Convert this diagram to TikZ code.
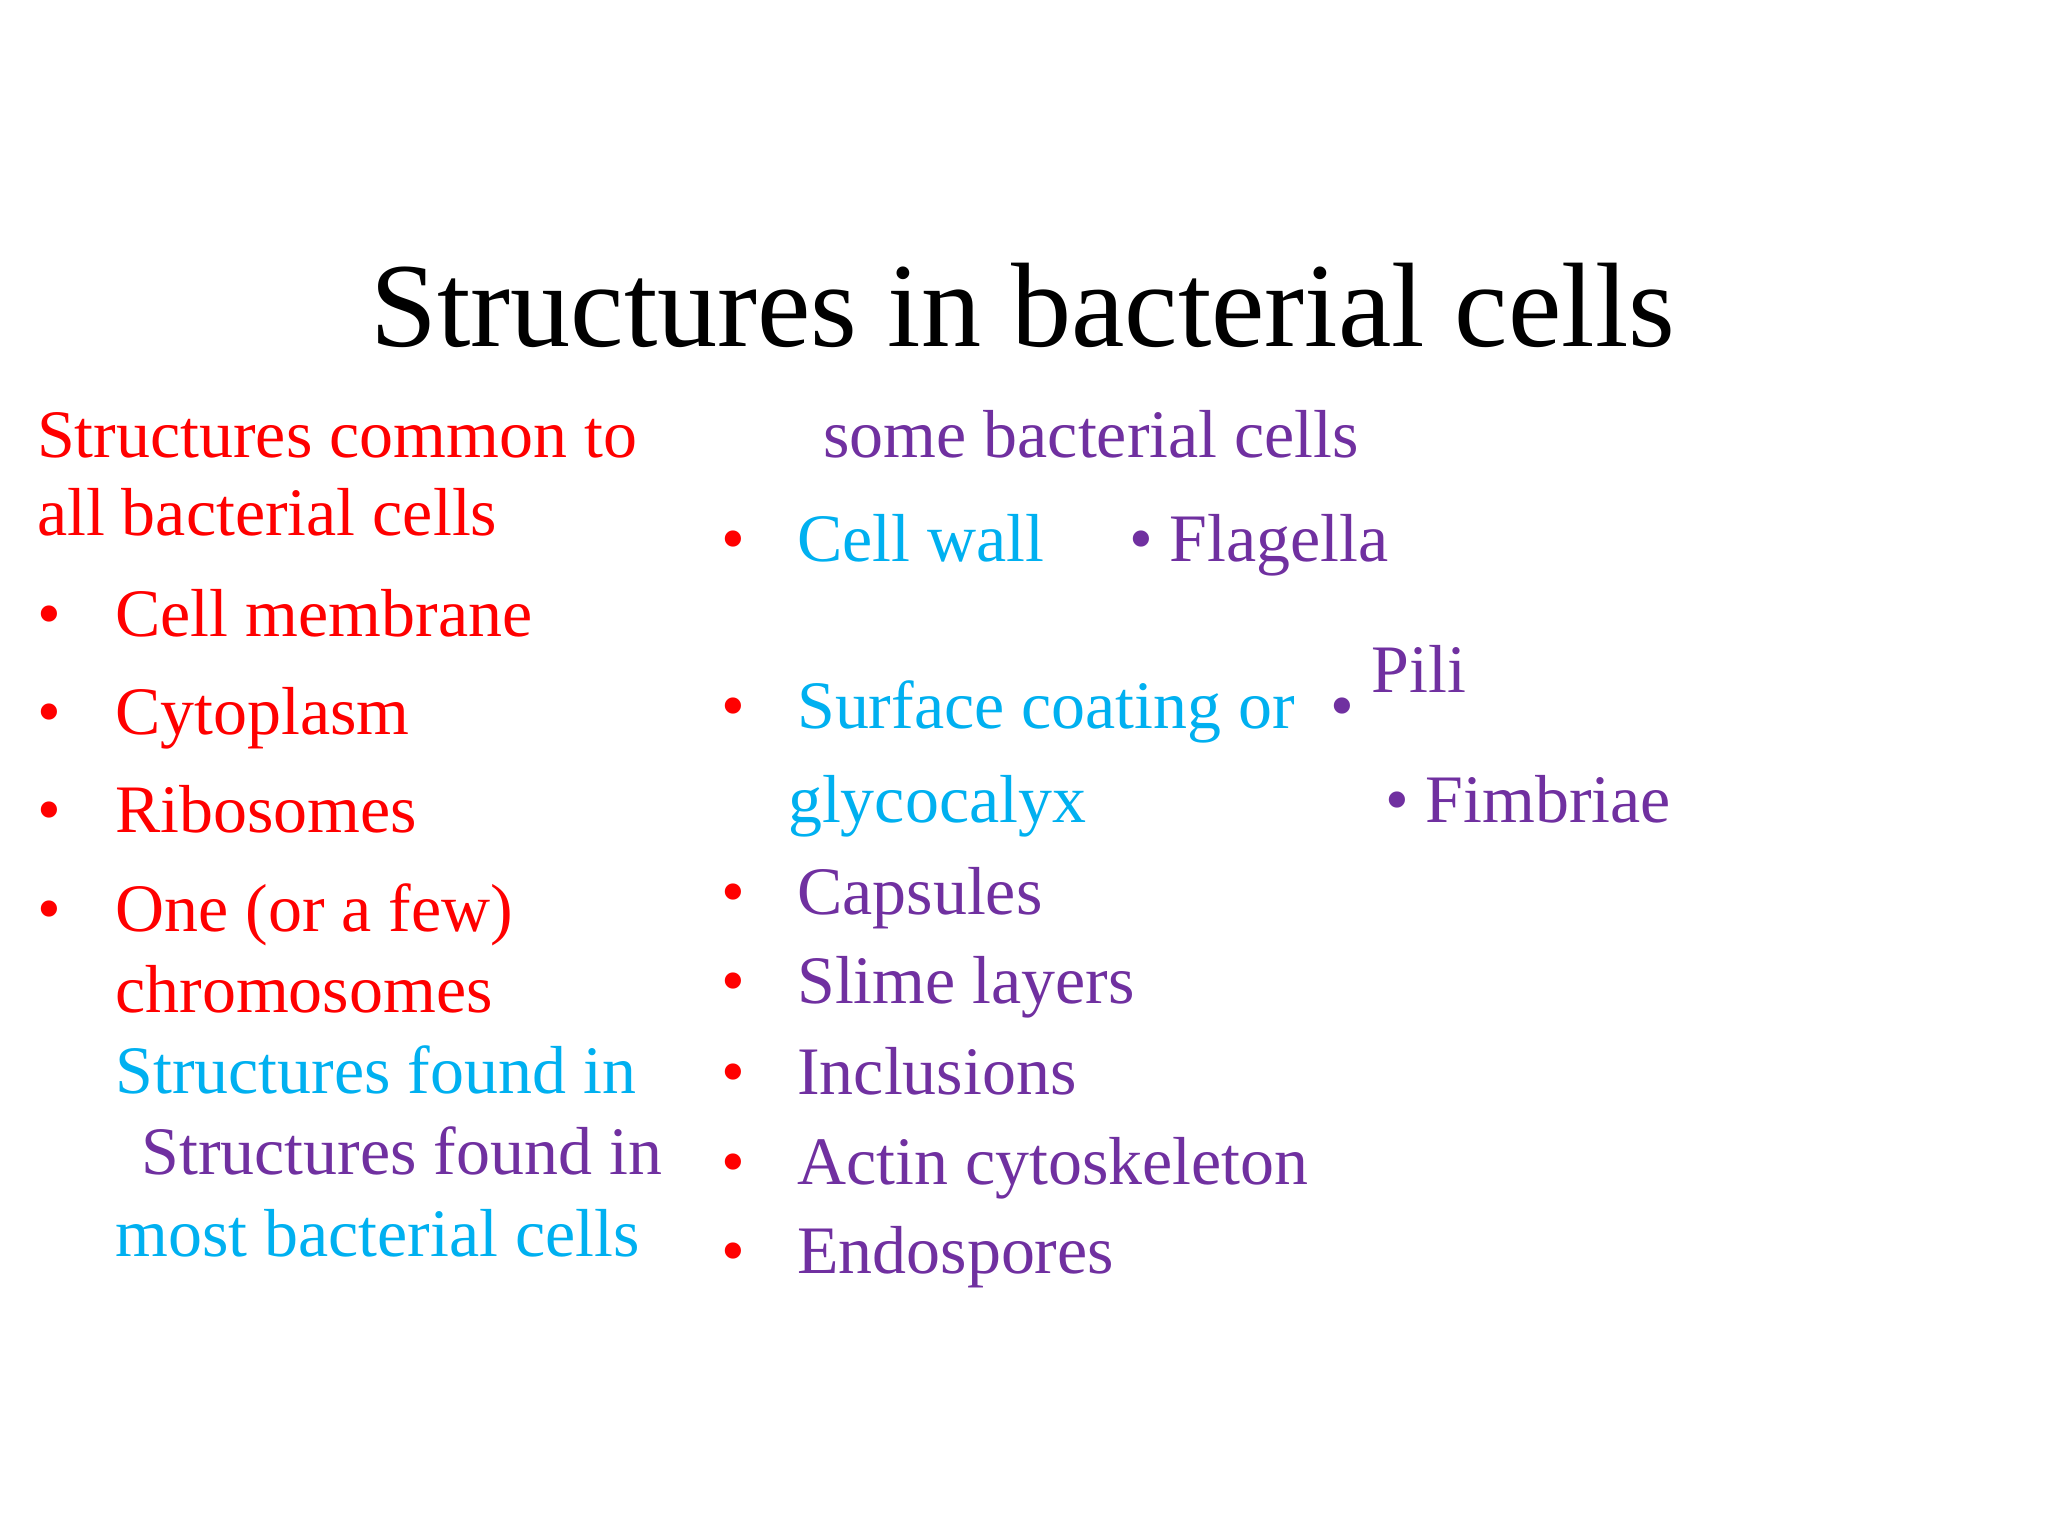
\documentclass[tikz,border=0pt]{standalone}
\usepackage{fontspec}
\setmainfont{Liberation Serif}
\definecolor{cred}{HTML}{FF0000}
\definecolor{ccyan}{HTML}{00B0F0}
\definecolor{cpur}{HTML}{7030A0}
\begin{document}
\begin{tikzpicture}[x=0.5pt,y=-0.5pt,
  t/.style={anchor=base west,inner sep=0pt,font=\fontsize{26}{30}\selectfont},
  bl/.style={t,text=cred}]
\useasboundingbox (0,0) rectangle (1568,1176);
\node[anchor=base,inner sep=0pt,font=\fontsize{46}{50}\selectfont] (title) at (783,265) {Structures in bacterial cells};
\node[t,text=cred] (l1) at (28,350) {Structures common to};
\node[t,text=cred] (l2) at (28,410) {all bacterial cells};
\foreach \y/\s [count=\i] in {487/Cell membrane,562/Cytoplasm,637/Ribosomes,713/One (or a few)}{
  \node[bl] (lb\i) at (28,\y) {•};
  \node[t,text=cred] (lt\i) at (88,\y) {\s};}
\node[t,text=cred] (l7) at (88,775) {chromosomes};
\node[t,text=ccyan] (l8) at (88,837) {Structures found in};
\node[t,text=cpur] (l9) at (108,899) {Structures found in};
\node[t,text=ccyan] (l10) at (88,962) {most bacterial cells};
\node[t,text=cpur] (r0) at (630,350) {some bacterial cells};
\node[bl] (rb1) at (552,430) {•};
\node[t,text=ccyan] (r1) at (610,430) {Cell wall};
\node[t,text=cpur] (fl) at (864,430) {• Flagella};
\node[bl] (rb2) at (552,558) {•};
\node[t,text=ccyan] (r2) at (610,558) {Surface coating or};
\node[t,text=cpur] (pb) at (1018,558) {•};
\node[t,text=cpur] (pi) at (1050,530) {Pili};
\node[t,text=ccyan] (r3) at (603,630) {glycocalyx};
\node[t,text=cpur] (fi) at (1060,630) {• Fimbriae};
\foreach \y/\s [count=\i] in {700/Capsules,768/Slime layers,838/Inclusions,907/Actin cytoskeleton,975/Endospores}{
  \node[bl] (rc\i) at (552,\y) {•};
  \node[t,text=cpur] (rt\i) at (610,\y) {\s};}
\end{tikzpicture}
\end{document}
